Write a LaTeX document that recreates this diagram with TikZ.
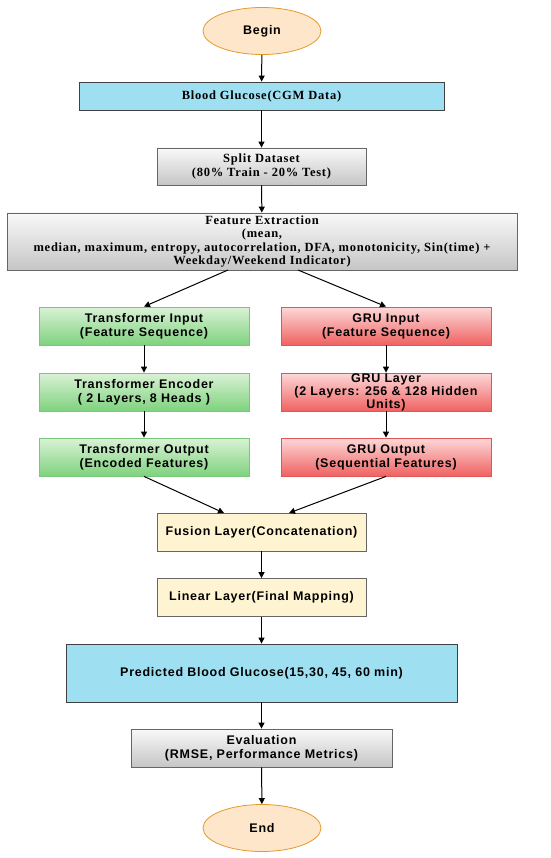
\documentclass[tikz,border=0pt]{standalone}
\usepackage{fontspec}
\setmainfont{Liberation Serif}[LetterSpace=6]
\setsansfont{Liberation Sans}[LetterSpace=6]
\usetikzlibrary{arrows.meta,shapes.geometric}
\definecolor{cyanbox}{HTML}{9EE0F2}
\definecolor{beige}{HTML}{FFF4D2}
\definecolor{peach}{HTML}{FDE6C9}
\definecolor{orangeline}{HTML}{E39A2E}
\definecolor{greenline}{HTML}{79C879}
\definecolor{redline}{HTML}{E05555}
\definecolor{greentop}{HTML}{DAF2D6}
\definecolor{greenbot}{HTML}{7ED27E}
\definecolor{redtop}{HTML}{FDD8D8}
\definecolor{redbot}{HTML}{F06262}
\begin{document}
\begin{tikzpicture}[x=1pt,y=-1pt,
  base/.style={rectangle,inner sep=0pt,align=center,font=\sffamily\bfseries\fontsize{12.5}{14}\selectfont},
  term/.style={ellipse,draw=orangeline,line width=0.8pt,fill=peach,minimum width=118pt,minimum height=47pt,inner sep=0pt,font=\sffamily\bfseries\fontsize{12.5}{14}\selectfont},
  cyanstyle/.style={base,draw=black!75,line width=0.8pt,fill=cyanbox},
  graystyle/.style={base,draw=black!60,line width=0.8pt,top color=gray!5,bottom color=gray!45},
  serif/.style={font=\rmfamily\bfseries\fontsize{12.5}{13.5}\selectfont},
  greenstyle/.style={base,draw=greenline,line width=0.8pt,top color=greentop,bottom color=greenbot,minimum width=210pt,minimum height=38pt},
  redstyle/.style={base,draw=redline,line width=0.8pt,top color=redtop,bottom color=redbot,minimum width=210pt,minimum height=38pt},
  beigestyle/.style={base,draw=black!60,line width=0.8pt,fill=beige,minimum width=209pt,minimum height=38pt},
  arr/.style={-{Triangle[length=6pt,width=6pt]},line width=1pt,black}
]
\useasboundingbox (0,0) rectangle (550,858);
\node[term] (begin) at (262,31) {Begin};
\node[cyanstyle,serif,minimum width=365pt,minimum height=28pt] (bg) at (261.5,96) {Blood Glucose(CGM Data)};
\node[graystyle,serif,minimum width=209pt,minimum height=37pt] (split) at (261.5,166.5) {Split Dataset\\(80\% Train - 20\% Test)};
\node[graystyle,serif,minimum width=510pt,minimum height=57pt] (feat) at (262,241.5) {Feature Extraction\\(mean,\\median, maximum, entropy, autocorrelation, DFA, monotonicity, Sin(time) +\\Weekday/Weekend Indicator)};
\node[greenstyle] (tin) at (144,326) {Transformer Input\\(Feature Sequence)};
\node[greenstyle] (tenc) at (144,392) {Transformer Encoder\\( 2 Layers, 8 Heads )};
\node[greenstyle] (tout) at (144,457) {Transformer Output\\(Encoded Features)};
\node[redstyle] (gin) at (386,326) {GRU Input\\(Feature Sequence)};
\node[redstyle,font=\sffamily\bfseries\fontsize{12.5}{13}\selectfont] (glay) at (386,392) {GRU Layer\\(2 Layers: 256 \& 128 Hidden\\Units)};
\node[redstyle] (gout) at (386,457) {GRU Output\\(Sequential Features)};
\node[beigestyle] (fus) at (261.5,532) {Fusion Layer(Concatenation)};
\node[beigestyle] (lin) at (261.5,597.5) {Linear Layer(Final Mapping)};
\node[cyanstyle,minimum width=391pt,minimum height=58pt] (pred) at (261.5,673) {Predicted Blood Glucose(15,30, 45, 60 min)};
\node[graystyle,minimum width=261pt,minimum height=38pt] (eval) at (261.5,748) {Evaluation\\(RMSE, Performance Metrics)};
\node[term] (end) at (262,828) {End};
\coordinate (fl) at (228,270);
\coordinate (fr) at (298,270);
\coordinate (fusl) at (224,513);
\coordinate (fusr) at (289,513);
\draw[arr] (begin) -- (bg);
\draw[arr] (bg) -- (split);
\draw[arr] (split) -- (feat);
\draw[arr] (fl) -- (tin.north);
\draw[arr] (fr) -- (gin.north);
\draw[arr] (tin) -- (tenc);
\draw[arr] (tenc) -- (tout);
\draw[arr] (gin) -- (glay);
\draw[arr] (glay) -- (gout);
\draw[arr] (tout.south) -- (fusl);
\draw[arr] (gout.south) -- (fusr);
\draw[arr] (fus) -- (lin);
\draw[arr] (lin) -- (pred);
\draw[arr] (pred) -- (eval);
\draw[arr] (eval) -- (end);
\end{tikzpicture}
\end{document}
